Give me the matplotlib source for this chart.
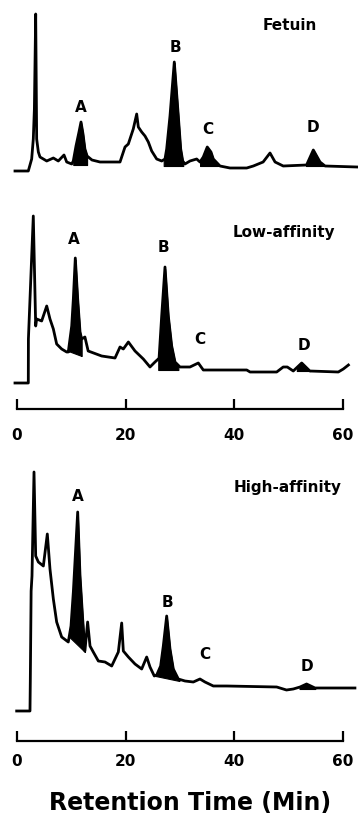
import numpy as np
import matplotlib
matplotlib.use('Agg')
import matplotlib.pyplot as plt

plt.rcParams['font.family'] = ['DejaVu Sans']

# Fetuin trace: retention time (min) / absorbance (arbitrary units)
fet_t = [-0.37, 2.08, 2.70, 3.0, 3.2, 3.44, 3.62, 3.93, 4.23, 5.47, 6.69, 7.6, 8.65, 9.15, 10.07,
         10.36, 10.86, 11.41, 11.78, 12.15, 12.5, 12.9, 13.8, 15.28, 18.96, 19.88, 20.49, 21.4,
         22.03, 22.33, 22.95, 23.56, 24.17, 24.79, 25.71, 26.63, 27.24, 27.55, 28.16, 28.95,
         29.69, 30.13, 30.5, 30.92, 31.84, 33.07, 33.68, 34.29, 35.02, 35.7, 36.13, 37.36, 39.2,
         42.28, 43.5, 45.3, 46.57, 47.5, 49.0, 53.3, 54.54, 55.77, 56.7, 62.6]
fet_h = [0, 0, 12, 32, 62, 157, 32, 19, 14, 10, 13, 10, 16, 9, 7,
         10, 25, 39, 49, 37, 22, 15, 11, 9, 9, 24, 27, 42,
         57, 44, 39, 35, 29, 20, 12, 10, 12, 22, 55, 109,
         55, 22, 10, 7, 10, 12, 9, 14, 24, 19, 12, 5, 3,
         3, 5, 9, 18, 9, 5, 6, 21, 9, 5, 4]

low_t = [-0.37, 2.08, 2.1, 3.0, 3.44, 3.62, 4.54, 5.47, 6.07, 6.69, 7.3, 8.22, 9.14,
         9.44, 10.07, 10.37, 10.73, 11.17, 11.6, 11.9, 12.5, 13.1, 15.58, 18.04, 18.96, 19.57,
         20.5, 21.72, 23.25, 24.48, 25.4, 26.0, 26.14, 26.63, 27.24, 27.85, 28.47, 29.08, 30.0,
         31.84, 33.37, 34.29, 42.28, 42.9, 47.8, 49.0, 49.75, 50.85, 52.4, 53.9, 59.14, 60.06,
         61.0]
low_h = [0, 0, 44, 167, 57, 64, 62, 77, 64, 54, 39, 34, 31,
         31, 57, 84, 125, 84, 51, 44, 46, 32, 27, 25, 36, 34,
         41, 32, 24, 16, 21, 24, 24, 67, 116, 67, 37, 21, 16,
         16, 20, 13, 13, 11, 11, 16, 16, 12, 20, 12, 11, 14,
         18]

high_t = [-0.06, 2.39, 2.45, 2.6, 2.76, 3.13, 3.44, 3.93, 4.85, 5.58, 6.07, 6.69, 7.3, 8.22, 9.44,
          9.63, 9.94, 10.37, 11.17, 11.6, 12.09, 12.5, 13.0, 13.44, 14.04, 14.97, 16.2, 17.43,
          18.65, 19.27, 19.57, 20.5, 21.72, 22.95, 23.87, 24.48, 25.27, 25.71, 26.44, 26.93,
          27.55, 28.16, 28.77, 29.69, 30.92, 32.45, 33.68, 34.6, 36.13, 38.6, 47.8, 49.6, 50.85,
          52.1, 53.3, 54.85, 62.2]
high_h = [0, 0, 30, 120, 135, 239, 155, 149, 145, 177, 142, 112, 89, 74, 69,
          75, 85, 119, 199, 135, 92, 60, 89, 65, 59, 50, 49, 45,
          59, 88, 60, 54, 47, 42, 54, 44, 35, 36, 45, 65,
          95, 62, 42, 32, 30, 29, 32, 29, 25, 25, 24, 21, 22,
          24, 27, 23, 23]

# shaded peaks: start, end (min), baseline at start, baseline at end
fet_peaks = [(10.36, 12.9, 6, 6), (27.0, 30.6, 5, 5), (33.7, 37.0, 5, 5), (53.2, 56.4, 5, 5)]
low_peaks = [(9.44, 11.9, 32, 27), (26.0, 29.7, 13, 13), (51.5, 54.0, 12, 12)]
high_peaks = [(9.63, 12.5, 74, 59), (25.5, 29.9, 35, 30), (52.0, 54.9, 22, 22)]

peak_names = ['A', 'B', 'C', 'D']
fet_lab = [(11.8, 64), (29.1, 125), (35.2, 42), (54.5, 44)]
low_lab = [(10.5, 144), (26.9, 136), (33.7, 44), (52.8, 38)]
high_lab = [(11.2, 215), (27.6, 109), (34.6, 57), (53.4, 45)]

W, H = 358, 828
fig = plt.figure(figsize=(W / 100, H / 100), dpi=100)
xlim = (-17 / 5.433, (W - 17) / 5.433)


def panel(top, bot, ref, t, h, peaks, labs, title, title_pos, axis_y=None, pad=12):
    ax = fig.add_axes([0, 1 - bot / H, 1, (bot - top) / H])
    ax.set_xlim(xlim)
    ax.set_ylim(ref - bot, ref - top)
    t = np.array(t, dtype=float)
    h = np.array(h, dtype=float)
    ax.plot(t, h, color='black', lw=2.0, solid_joinstyle='round')
    for a, b, b0, b1 in peaks:
        tt = np.linspace(a, b, 80)
        hh = np.interp(tt, t, h)
        base = np.linspace(b0, b1, len(tt))
        ax.fill_between(tt, base, hh, color='black', lw=0.8)
    for name, (x, y) in zip(peak_names, labs):
        ax.text(x, y, name, ha='center', va='center', fontsize=11, fontweight='bold')
    ax.text(title_pos[0], title_pos[1], title, ha='center', va='center',
            fontsize=11, fontweight='bold')
    for s in ['top', 'right', 'left']:
        ax.spines[s].set_visible(False)
    ax.set_yticks([])
    if axis_y is None:
        ax.spines['bottom'].set_visible(False)
        ax.set_xticks([])
    else:
        ax.spines['bottom'].set_position(('data', ref - axis_y))
        ax.spines['bottom'].set_bounds(0, 60)
        ax.spines['bottom'].set_linewidth(1.6)
        ax.set_xticks([0, 20, 40, 60])
        ax.tick_params(axis='x', direction='in', length=7, width=1.6, pad=pad,
                       labelsize=11)
        for lb in ax.get_xticklabels():
            lb.set_fontweight('bold')
    return ax


panel(0, 190, 172, fet_t, fet_h, fet_peaks, fet_lab, 'Fetuin', (50.3, 147))
panel(195, 420, 384, low_t, low_h, low_peaks, low_lab, 'Low-affinity', (49.1, 152),
      axis_y=410, pad=13)
panel(450, 770, 712, high_t, high_h, high_peaks, high_lab, 'High-affinity', (49.9, 224),
      axis_y=742, pad=9)

fig.text(190 / W, 1 - 803 / H, 'Retention Time (Min)', ha='center', va='center',
         fontsize=17, fontweight='bold')

fig.savefig('out.png', dpi=100)
